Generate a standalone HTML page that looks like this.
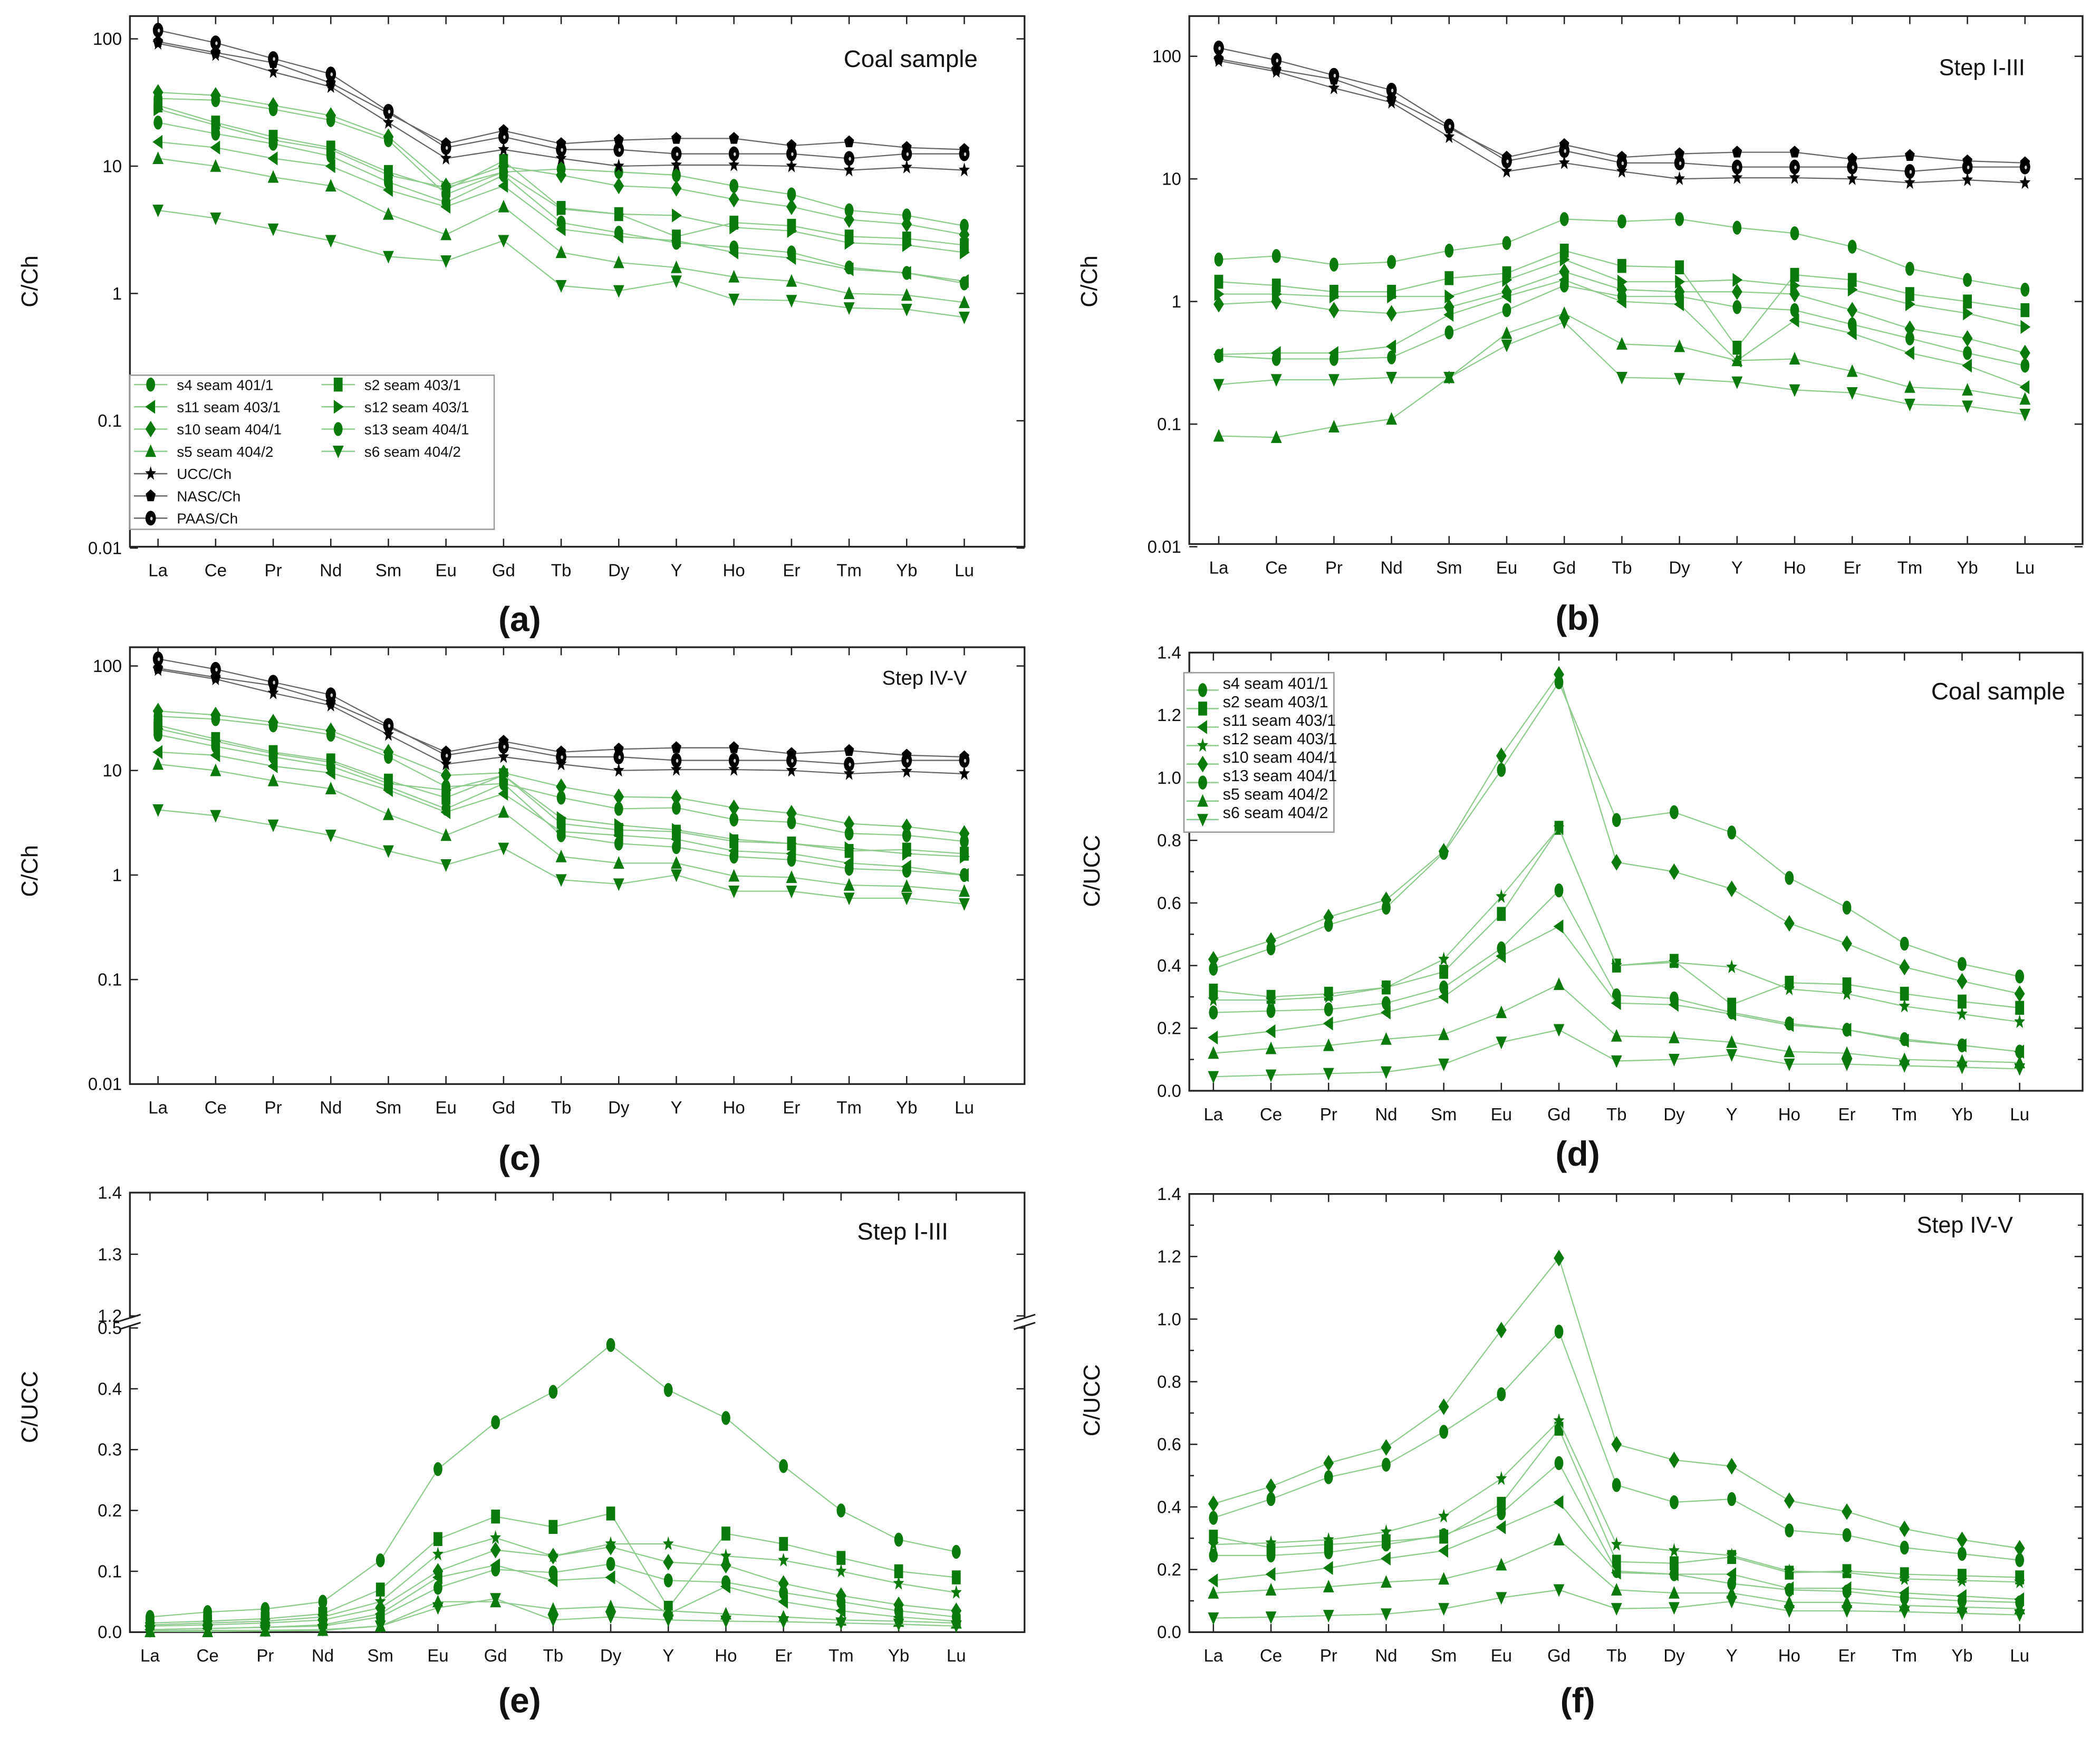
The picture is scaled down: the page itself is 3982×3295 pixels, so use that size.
<!DOCTYPE html>
<html><head><meta charset="utf-8"><style>
html,body{margin:0;padding:0;background:#fff}
svg{display:block}
text{font-family:"Liberation Sans",sans-serif}
</style></head><body>
<svg id="fig" width="3982" height="3295" viewBox="0 0 1568 1297" preserveAspectRatio="none" xmlns="http://www.w3.org/2000/svg"></svg>
<script>
const categories=["La","Ce","Pr","Nd","Sm","Eu","Gd","Tb","Dy","Y","Ho","Er","Tm","Yb","Lu"];
const seriesNames=["s4 seam 401/1","s2 seam 403/1","s11 seam 403/1","s12 seam 403/1","s10 seam 404/1","s13 seam 404/1","s5 seam 404/2","s6 seam 404/2"];
const refNames=["UCC/Ch","NASC/Ch","PAAS/Ch"];
const uccCh=[92,75,55,42,22,11.5,13.5,11.5,10,10.2,10.2,10,9.3,9.8,9.3];
const nascCh=[95,78,65,45,26,15,19,15,16,16.5,16.5,14.5,15.5,14,13.5];
const paasCh=[117,93,70,53,27,14,17,13.5,13.5,12.5,12.5,12.5,11.5,12.5,12.5];
const aS4=[22,18,15,12,7.5,5.2,8.5,3.6,3.0,2.5,2.3,2.1,1.6,1.45,1.2];
const aS2=[30,22,17,14,9,6.5,11,4.7,4.2,2.8,3.6,3.4,2.8,2.7,2.4];
const aS11=[15.5,14,11.5,10,6.5,4.8,7,3.2,2.8,2.6,2.1,1.9,1.55,1.45,1.25];
const aS12=[28,21,16,13.5,8.5,6.8,9,4.6,4.2,4.1,3.3,3.1,2.5,2.4,2.1];
const aS10=[38,36,30,25,17,7,10,8.5,7,6.7,5.5,4.8,3.8,3.5,2.9];
const aS13=[34,33,28,23,16,6,9,9.5,9,8.5,7,6,4.5,4.1,3.4];
const aS5=[11.5,10,8.2,7,4.2,2.9,4.8,2.1,1.75,1.6,1.35,1.25,1.0,0.97,0.85];
const aS6=[4.5,3.9,3.2,2.6,1.95,1.8,2.6,1.15,1.05,1.25,0.9,0.88,0.77,0.75,0.65];
const bS4=[0.36,0.34,0.34,0.35,0.56,0.85,1.35,1.1,1.1,0.9,0.85,0.65,0.5,0.38,0.3];
const bS2=[1.45,1.35,1.2,1.2,1.55,1.7,2.6,1.95,1.9,0.42,1.65,1.5,1.15,1.0,0.85];
const bS11=[0.37,0.38,0.38,0.43,0.78,1.1,1.5,1.0,0.95,0.33,0.7,0.55,0.38,0.3,0.2];
const bS12=[1.15,1.15,1.1,1.1,1.1,1.5,2.2,1.45,1.45,1.5,1.35,1.25,0.95,0.8,0.62];
const bS10=[0.95,1.0,0.85,0.8,0.9,1.2,1.75,1.25,1.2,1.2,1.15,0.85,0.6,0.5,0.38];
const bS13=[2.2,2.35,2.0,2.1,2.6,3.0,4.7,4.5,4.7,4.0,3.6,2.8,1.85,1.5,1.25];
const bS5=[0.08,0.078,0.095,0.11,0.24,0.55,0.8,0.45,0.43,0.33,0.34,0.27,0.2,0.19,0.16];
const bS6=[0.21,0.23,0.23,0.24,0.24,0.44,0.68,0.24,0.235,0.22,0.19,0.18,0.145,0.14,0.12];
const cS4=[22,17,13.5,11,7,4.3,7.5,2.4,2.0,1.85,1.5,1.4,1.15,1.1,1.0];
const cS2=[27,20,15,12.5,8,5.5,9,3.1,2.7,2.6,2.1,2.0,1.7,1.75,1.6];
const cS11=[15,14,11,9.5,6.5,4,6,2.6,2.4,2.2,1.7,1.6,1.3,1.2,1.0];
const cS12=[25,19,14.5,12,7.5,6.5,9,3.5,3.0,2.7,2.2,2.0,1.8,1.6,1.5];
const cS10=[37,34,29,24,15,9,9.5,7,5.6,5.5,4.4,3.9,3.1,2.9,2.5];
const cS13=[33,31,27,22,13.5,7,7.5,5.5,4.3,4.4,3.4,3.2,2.5,2.4,2.1];
const cS5=[11.5,10,8,6.7,3.8,2.4,4.0,1.5,1.3,1.3,0.98,0.95,0.8,0.78,0.7];
const cS6=[4.2,3.7,3.0,2.4,1.7,1.25,1.8,0.9,0.82,1.0,0.7,0.7,0.6,0.6,0.53];
const dS4=[0.25,0.255,0.26,0.28,0.33,0.455,0.64,0.305,0.295,0.25,0.215,0.195,0.165,0.145,0.125];
const dS2=[0.32,0.30,0.31,0.33,0.38,0.565,0.84,0.40,0.415,0.275,0.345,0.34,0.31,0.285,0.265];
const dS11=[0.17,0.19,0.215,0.25,0.30,0.43,0.525,0.28,0.275,0.245,0.21,0.195,0.16,0.145,0.125];
const dS12=[0.29,0.29,0.30,0.33,0.42,0.62,0.84,0.40,0.41,0.395,0.325,0.31,0.27,0.245,0.22];
const dS10=[0.42,0.48,0.555,0.61,0.765,1.07,1.33,0.73,0.70,0.645,0.535,0.47,0.395,0.35,0.31];
const dS13=[0.39,0.455,0.53,0.585,0.76,1.025,1.305,0.865,0.89,0.825,0.68,0.585,0.47,0.405,0.365];
const dS5=[0.12,0.135,0.145,0.165,0.18,0.25,0.34,0.175,0.17,0.155,0.125,0.12,0.10,0.095,0.09];
const dS6=[0.045,0.05,0.055,0.06,0.085,0.155,0.195,0.095,0.10,0.115,0.085,0.085,0.08,0.075,0.07];
const eS4=[0.004,0.006,0.008,0.01,0.025,0.073,0.103,0.098,0.112,0.085,0.082,0.065,0.05,0.035,0.025];
const eS2=[0.015,0.018,0.022,0.03,0.07,0.153,0.19,0.173,0.195,0.04,0.162,0.145,0.122,0.1,0.09];
const eS11=[0.004,0.006,0.008,0.012,0.03,0.09,0.11,0.085,0.09,0.03,0.075,0.05,0.035,0.025,0.018];
const eS12=[0.012,0.015,0.018,0.025,0.05,0.128,0.155,0.125,0.145,0.145,0.125,0.118,0.1,0.08,0.065];
const eS10=[0.01,0.012,0.015,0.02,0.04,0.1,0.135,0.125,0.14,0.115,0.11,0.08,0.06,0.045,0.035];
const eS13=[0.025,0.033,0.038,0.05,0.118,0.268,0.345,0.395,0.472,0.398,0.352,0.273,0.2,0.152,0.132];
const eS5=[0.001,0.001,0.002,0.003,0.01,0.05,0.05,0.038,0.042,0.035,0.03,0.025,0.02,0.018,0.015];
const eS6=[0.002,0.003,0.003,0.004,0.01,0.04,0.055,0.02,0.025,0.02,0.018,0.017,0.015,0.013,0.01];
const fS4=[0.245,0.245,0.255,0.28,0.31,0.38,0.54,0.195,0.185,0.155,0.135,0.13,0.11,0.10,0.095];
const fS2=[0.305,0.27,0.28,0.29,0.305,0.41,0.65,0.225,0.22,0.24,0.19,0.195,0.185,0.18,0.175];
const fS11=[0.165,0.185,0.205,0.235,0.26,0.335,0.415,0.19,0.185,0.185,0.14,0.14,0.125,0.115,0.105];
const fS12=[0.28,0.285,0.295,0.32,0.37,0.49,0.675,0.28,0.26,0.245,0.195,0.19,0.17,0.165,0.16];
const fS10=[0.41,0.465,0.54,0.59,0.72,0.965,1.195,0.60,0.55,0.53,0.42,0.385,0.33,0.295,0.268];
const fS13=[0.365,0.425,0.495,0.535,0.64,0.76,0.96,0.47,0.415,0.425,0.325,0.31,0.27,0.25,0.23];
const fS5=[0.125,0.135,0.145,0.16,0.17,0.215,0.295,0.135,0.125,0.125,0.095,0.095,0.085,0.08,0.075];
const fS6=[0.045,0.048,0.053,0.058,0.075,0.11,0.135,0.075,0.078,0.098,0.068,0.068,0.065,0.06,0.055];
const logTicks=["100","10","1","0.1","0.01"];
const linTicks=["0.0","0.2","0.4","0.6","0.8","1.0","1.2","1.4"];

const NS="http://www.w3.org/2000/svg";
const svg=document.getElementById('fig');
function mk(tag,attrs,parent){const e=document.createElementNS(NS,tag);for(const k in attrs)e.setAttribute(k,attrs[k]);(parent||svg).appendChild(e);return e;}
const GREEN="#0a7a0a", LINEG="#8fcb8f";
function marker(g,shape,x,y,fill){
  const w=3.3,h=5.2;let e;
  if(shape==='circle'||shape==='hex'){e=mk('ellipse',{cx:x,cy:y,rx:w,ry:h,fill:fill},g);}
  else if(shape==='paas'){e=mk('ellipse',{cx:x,cy:y,rx:w+0.6,ry:h+0.3,fill:'#000'},g);mk('ellipse',{cx:x+0.6,cy:y+0.3,rx:0.9,ry:1.4,fill:'#ccc'},g);}
  else if(shape==='square'){e=mk('rect',{x:x-w,y:y-h,width:2*w,height:2*h,fill:fill},g);}
  else if(shape==='diamond'){e=mk('polygon',{points:`${x},${y-h-1} ${x+w+0.6},${y} ${x},${y+h+1} ${x-w-0.6},${y}`,fill:fill},g);}
  else if(shape==='up'){e=mk('polygon',{points:`${x},${y-h} ${x+w+0.8},${y+h-1} ${x-w-0.8},${y+h-1}`,fill:fill},g);}
  else if(shape==='down'){e=mk('polygon',{points:`${x},${y+h} ${x+w+0.8},${y-h+1} ${x-w-0.8},${y-h+1}`,fill:fill},g);}
  else if(shape==='left'){e=mk('polygon',{points:`${x-w-0.8},${y} ${x+w},${y-h} ${x+w},${y+h}`,fill:fill},g);}
  else if(shape==='right'){e=mk('polygon',{points:`${x+w+0.8},${y} ${x-w},${y-h} ${x-w},${y+h}`,fill:fill},g);}
  else if(shape==='star'||shape==='kstar'){let p=[];for(let i=0;i<10;i++){const a=-Math.PI/2+i*Math.PI/5;const r=i%2?0.42:1;p.push((x+Math.cos(a)*r*(w+1)).toFixed(2)+','+(y+Math.sin(a)*r*(h+0.5)).toFixed(2));}e=mk('polygon',{points:p.join(' '),fill:fill},g);}
  else if(shape==='pent'){let p=[];for(let i=0;i<5;i++){const a=-Math.PI/2+i*2*Math.PI/5;p.push((x+Math.cos(a)*(w+0.6)).toFixed(2)+','+(y+Math.sin(a)*(h-0.3)).toFixed(2));}e=mk('polygon',{points:p.join(' '),fill:fill},g);}
  return e;
}
function text(s,x,y,size,anchor,parent,extra){const t=mk('text',Object.assign({x:x,y:y,'font-size':size,'text-anchor':anchor||'start',fill:'#111'},extra||{}),parent);t.textContent=s;return t;}

function panel(cfg){
  const g=mk('g',{});
  
  
  const {L,R,T,B,x0,x1}=cfg;
  const xs=i=>x0+(x1-x0)*i/(categories.length-1);
  const ys=cfg.ys;
  const fr=mk('rect',{x:L,y:T,width:R-L,height:B-T,fill:'none',stroke:'#222','stroke-width':1.3},g);
  
  categories.forEach((c,i)=>{const x=xs(i);
    mk('line',{x1:x,y1:B,x2:x,y2:B-6,stroke:'#222','stroke-width':1},g);
    mk('line',{x1:x,y1:T,x2:x,y2:T+6,stroke:'#222','stroke-width':1},g);
    const t=text(c,x,cfg.xlab,13,'middle',g);
    });
  cfg.yt.forEach(([lab,v])=>{const y=ys(v);
    mk('line',{x1:L,y1:y,x2:L+6,y2:y,stroke:'#222','stroke-width':1},g);
    mk('line',{x1:R,y1:y,x2:R-6,y2:y,stroke:'#222','stroke-width':1},g);
    const t=text(lab,L-6,y+4.5,13,'end',g);
    });
  (cfg.minor||[]).forEach(v=>{const y=ys(v);
    mk('line',{x1:L,y1:y,x2:L+3.5,y2:y,stroke:'#222','stroke-width':1},g);
    mk('line',{x1:R,y1:y,x2:R-3.5,y2:y,stroke:'#222','stroke-width':1},g);});
  const yt=text(cfg.ytitle,0,0,17,'middle',g,{transform:`translate(${cfg.ytx},${cfg.yty}) rotate(-90)`});
  
  const ti=text(cfg.title,cfg.tx,cfg.ty,cfg.ts,'end',g);
  
  const cap=text(cfg.cap,cfg.capx,cfg.capy,26,'middle',svg,{'font-family':'"Liberation Serif",serif','font-weight':'bold'});
  
  cfg.series.forEach(([data,shape,line,fill,nm])=>{
    const sg=mk('g',{},g);
    
    
    const pts=data.map((v,i)=>xs(i).toFixed(2)+','+ys(v).toFixed(2)).join(' ');
    mk('polyline',{points:pts,fill:'none',stroke:line,'stroke-width':0.9},sg);
    data.forEach((v,i)=>{const m=marker(sg,shape,xs(i),ys(v),fill);
      
      });
  });
  return g;
}
const logY=(one,dec)=>v=>one-Math.log10(v)*dec;
const linY=(zero,per)=>v=>zero-v*per;
const logTickVals=[100,10,1,0.1,0.01];
const linTickVals=[0,0.2,0.4,0.6,0.8,1.0,1.2,1.4];
const shapesA=['circle','square','left','right','diamond','hex','up','down'];
const shapesD=['circle','square','left','star','diamond','hex','up','down'];
function greenSeries(arrs,shapes){return arrs.map((a,i)=>[a,shapes[i],LINEG,GREEN,seriesNames[i]]);}
function blackSeries(){return [[uccCh,'kstar','#666','#000','UCC'],[nascCh,'pent','#666','#000','NASC'],[paasCh,'paas','#666','#000','PAAS']];}

panel({name:'panel-a',L:97,R:765,T:12,B:408,x0:118,x1:720,ys:logY(219,95),xlab:430,
  yt:logTicks.map((l,i)=>[l,logTickVals[i]]),ytitle:'C/Ch',ytx:28,yty:210,title:'Coal sample',tx:730,ty:50,ts:18,
  cap:'(a)',capx:388,capy:471,
  series:greenSeries([aS4,aS2,aS11,aS12,aS10,aS13,aS5,aS6],shapesA).concat(blackSeries())});
panel({name:'panel-b',L:888,R:1555,T:12,B:406,x0:910,x1:1512,ys:logY(225,91.5),xlab:428,
  yt:logTicks.map((l,i)=>[l,logTickVals[i]]),ytitle:'C/Ch',ytx:819,yty:210,title:'Step I-III',tx:1512,ty:56,ts:17,
  cap:'(b)',capx:1178,capy:470,
  series:greenSeries([bS4,bS2,bS11,bS12,bS10,bS13,bS5,bS6],shapesA).concat(blackSeries())});
panel({name:'panel-c',L:97,R:765,T:483,B:809,x0:118,x1:720,ys:logY(653,78),xlab:831,
  yt:logTicks.map((l,i)=>[l,logTickVals[i]]),ytitle:'C/Ch',ytx:28,yty:650,title:'Step IV-V',tx:722,ty:511,ts:15,
  cap:'(c)',capx:388,capy:873,
  series:greenSeries([cS4,cS2,cS11,cS12,cS10,cS13,cS5,cS6],shapesA).concat(blackSeries())});
const minorD=[0.1,0.3,0.5,0.7,0.9,1.1,1.3];
panel({name:'panel-d',L:888,R:1555,T:487,B:814,x0:906,x1:1508,ys:linY(814,233.6),xlab:836,minor:minorD,
  yt:linTicks.map((l,i)=>[l,linTickVals[i]]),ytitle:'C/UCC',ytx:821,yty:650,title:'Coal sample',tx:1542,ty:522,ts:18,
  cap:'(d)',capx:1178,capy:870,
  series:greenSeries([dS4,dS2,dS11,dS12,dS10,dS13,dS5,dS6],shapesD)});
panel({name:'panel-f',L:888,R:1555,T:891,B:1218,x0:906,x1:1508,ys:linY(1218,233.6),xlab:1240,minor:minorD,
  yt:linTicks.map((l,i)=>[l,linTickVals[i]]),ytitle:'C/UCC',ytx:821,yty:1045,title:'Step IV-V',tx:1503,ty:920,ts:17,
  cap:'(f)',capx:1178,capy:1278,
  series:greenSeries([fS4,fS2,fS11,fS12,fS10,fS13,fS5,fS6],shapesD)});
const eY=v=>v>1.0?982-(v-1.2)*460:1218-v*454;
const eTickLabs=["0.0","0.1","0.2","0.3","0.4","0.5","1.2","1.3","1.4"];
const eTickVals=[0,0.1,0.2,0.3,0.4,0.5,1.2,1.3,1.4];
panel({name:'panel-e',L:97,R:765,T:890,B:1218,x0:112,x1:714,ys:eY,xlab:1240,
  yt:eTickLabs.map((l,i)=>[l,eTickVals[i]]),ytitle:'C/UCC',ytx:28,yty:1050,title:'Step I-III',tx:708,ty:925,ts:18,
  cap:'(e)',capx:388,capy:1278,
  series:greenSeries([eS4,eS2,eS11,eS12,eS10,eS13,eS5,eS6],shapesD)});
[[97],[765]].forEach(([x])=>{
  mk('rect',{x:x-8,y:983,width:16,height:7,fill:'#fff'});
  mk('line',{x1:x-8,y1:986,x2:x+8,y2:981,stroke:'#222','stroke-width':1.2});
  mk('line',{x1:x-8,y1:992,x2:x+8,y2:987,stroke:'#222','stroke-width':1.2});
});

(function(){
  const g=mk('g',{});
  
  mk('rect',{x:97,y:280,width:272,height:115,fill:'#fff',stroke:'#999','stroke-width':1},g);
  const rows=[[0,0,0],[1,1,0],[2,0,1],[3,1,1],[4,0,2],[5,1,2],[6,0,3],[7,1,3]];
  rows.forEach(([si,col,row])=>{
    const lx=col?240:100,y=287+row*16.6;
    const e=mk('g',{},g);
    
    mk('line',{x1:lx,y1:y,x2:lx+25,y2:y,stroke:LINEG,'stroke-width':1},e);
    marker(e,shapesA[si],lx+12.5,y,GREEN);
    text(seriesNames[si],lx+32,y+4,11,'start',e);
  });
  const bs=['kstar','pent','paas'];
  refNames.forEach((n,i)=>{const y=353.5+i*16.6;
    const e=mk('g',{},g);
    
    mk('line',{x1:100,y1:y,x2:125,y2:y,stroke:'#666','stroke-width':1},e);
    marker(e,bs[i],112.5,y,'#000');
    text(n,132,y+4,11,'start',e);});
})();
(function(){
  const g=mk('g',{});
  
  mk('rect',{x:884,y:502,width:112,height:119,fill:'#fff',stroke:'#999','stroke-width':1},g);
  seriesNames.forEach((n,i)=>{const y=515+i*13.8;
    const e=mk('g',{},g);
    
    mk('line',{x1:886,y1:y,x2:910,y2:y,stroke:LINEG,'stroke-width':1},e);
    marker(e,shapesD[i],898,y,GREEN);
    text(n,913,y-1,12,'start',e);});
})();
</script>
</body></html>
